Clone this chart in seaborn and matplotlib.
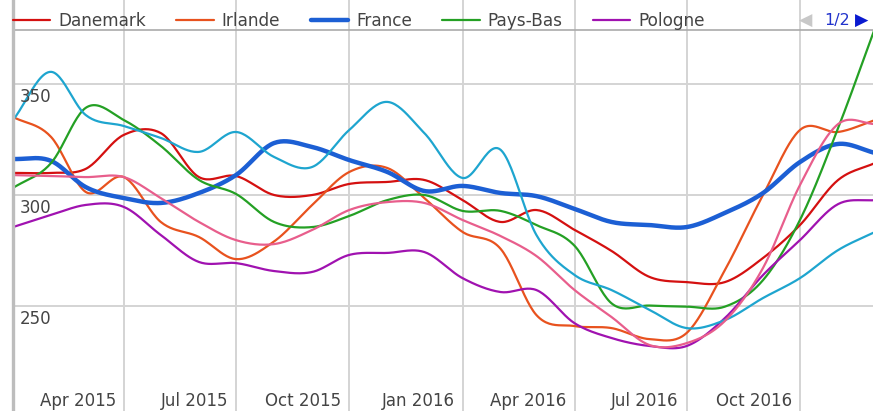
import numpy as np
import pandas as pd
import matplotlib
matplotlib.use("Agg")
import matplotlib.pyplot as plt
import matplotlib.dates as mdates
import matplotlib.transforms as mtransforms
import seaborn as sns

# monthly values
months = pd.date_range("2015-01-01", "2016-12-01", freq="MS")

danemark = [310, 310, 311.8, 327.2, 328, 308.1, 308.6, 300, 300, 305, 305.9, 306.8,
            297.7, 287.8, 293.2, 284.2, 274.7, 262.9, 260.6, 260.6, 271.5, 286.4, 306.8, 314.5]
irlande = [335.3, 326.2, 301.4, 308.1, 287.8, 281, 271, 279, 295.5, 310.4, 312.2, 298.6,
           283.3, 275.6, 245.7, 240.7, 239.8, 234.8, 237.6, 266, 300, 329.4, 328.5, 333.9]
france = [316.3, 315.4, 303.6, 298.6, 296.4, 300.9, 309, 323.5, 321.7, 315.8, 310.4, 301.8,
          304.1, 300.9, 299.5, 293.7, 287.8, 286.4, 285.5, 291.9, 300.9, 314.9, 323.1, 319]
pays_bas = [303.2, 314.5, 339.4, 333.9, 322.2, 306.8, 300.5, 287.8, 285.5, 290.5, 297.7, 300,
            292.8, 292.8, 286.4, 277, 251, 250, 249.5, 249.5, 261.5, 288.7, 330.3, 375.6]
pologne = [285.5, 291, 295.5, 294.6, 281.9, 269.7, 269.2, 265.6, 265.2, 272.9, 273.8, 274.2,
           262.4, 256.1, 257, 242, 235.3, 231.7, 231.7, 244.3, 263.8, 279.6, 295.9, 297.7]
serie_6 = [333.9, 355.7, 336.2, 331.2, 325.8, 319.5, 328.5, 317.2, 312.7, 329.4, 342.1, 328,
           307.7, 320.4, 281.9, 263.8, 257, 248, 239.8, 243.4, 253.4, 262.4, 275.1, 283.3]
serie_7 = [309, 308.6, 308.1, 308.1, 298.6, 287.8, 279.6, 277.8, 284.2, 293.2, 296.8, 296.4,
           288.7, 281.4, 272.4, 257, 244.8, 232.1, 233, 243, 267, 304.5, 332.1, 332.1]

names = ["Danemark", "Irlande", "France", "Pays-Bas", "Pologne", "serie_6", "serie_7"]
values = [danemark, irlande, france, pays_bas, pologne, serie_6, serie_7]
colors = ["#d41010", "#e8521e", "#1c5fd4", "#24a024", "#a012b0", "#1ea5cf", "#e85e8c"]
widths = [1.6, 1.6, 3.2, 1.6, 1.6, 1.6, 1.6]

quarter_ticks = pd.date_range("2015-04-01", "2016-10-01", freq="QS")
quarter_labels = [d.strftime("%b %Y") for d in quarter_ticks]
y_ticks = [250, 300, 350]


def smooth(x, y, n=24):
    # cubic hermite with catmull-rom tangents (like the 'function' curve type)
    x = np.asarray(x, float)
    y = np.asarray(y, float)
    m = np.gradient(y, x)
    xs, ys = [], []
    for i in range(len(x) - 1):
        h = x[i + 1] - x[i]
        t = np.linspace(0, 1, n, endpoint=False)
        h00 = 2 * t**3 - 3 * t**2 + 1
        h10 = t**3 - 2 * t**2 + t
        h01 = -2 * t**3 + 3 * t**2
        h11 = t**3 - t**2
        xs.append(x[i] + t * h)
        ys.append(h00 * y[i] + h10 * h * m[i] + h01 * y[i + 1] + h11 * h * m[i + 1])
    xs.append([x[-1]])
    ys.append([y[-1]])
    return np.concatenate(xs), np.concatenate(ys)


sns.set_theme(style="white")
plt.rcParams["font.family"] = ["DejaVu Sans"]

fig = plt.figure(figsize=(8.73, 4.11), dpi=100)
ax = fig.add_axes([13 / 873, 0, 860 / 873, 1])

xnum = mdates.date2num(months)
handles = []
for name, vals, c, lw in zip(names, values, colors, widths):
    xs, ys = smooth(xnum, vals)
    sns.lineplot(x=xs, y=ys, color=c, linewidth=lw, ax=ax, sort=False,
                 estimator=None, legend=False)
    handles.append(ax.lines[-1])

x0 = mdates.date2num(pd.Timestamp("2015-01-01"))
ax.set_xlim(x0, x0 + 698.3)
ax.set_ylim(202.3, 388.2)

ax.set_xticks(mdates.date2num(quarter_ticks))
ax.set_yticks(y_ticks)
ax.grid(True, color="#d4d4d4", linewidth=1.4)
ax.set_axisbelow(True)
ax.tick_params(length=0, labelbottom=False, labelleft=False)
ax.set_xlabel("")
ax.set_ylabel("")
for s in ["top", "right", "bottom"]:
    ax.spines[s].set_visible(False)
ax.spines["left"].set_color("#bdbdbd")
ax.spines["left"].set_linewidth(2.4)
ax.axhline(374.7, color="#aaaaaa", linewidth=1.2, zorder=1)

txt_color = "#444444"
ytr = mtransforms.offset_copy(ax.transData, fig=fig, x=7, y=-4, units="dots")
for v in y_ticks:
    ax.text(x0, v, str(v), transform=ytr, ha="left", va="top",
            fontsize=12, color=txt_color)

xtr = mtransforms.offset_copy(
    mtransforms.blended_transform_factory(ax.transData, ax.transAxes),
    fig=fig, x=-8, y=5, units="dots")
for d, lab in zip(mdates.date2num(quarter_ticks), quarter_labels):
    ax.text(d, 0, lab, transform=xtr, ha="right", va="baseline",
            fontsize=12, color=txt_color, clip_on=False)

leg = ax.legend(handles[:5], names[:5], loc="center left",
                bbox_to_anchor=(0, 1 - 21 / 411), ncol=5, frameon=False,
                fontsize=12.2, handlelength=2.2, handletextpad=0.47,
                columnspacing=1.8, borderpad=0, borderaxespad=0)
for t in leg.get_texts():
    t.set_color(txt_color)

fig.text(799 / 873, 1 - 21 / 411, "\u25c0", color="#c8c8c8", fontsize=12.5,
         ha="left", va="center")
fig.text(824 / 873, 1 - 21 / 411, "1/2", color="#2233cc", fontsize=11.5,
         ha="left", va="center")
fig.text(855 / 873, 1 - 21 / 411, "\u25b6", color="#0a1ad0", fontsize=12.5,
         ha="left", va="center")

fig.savefig("out.png", dpi=100)
